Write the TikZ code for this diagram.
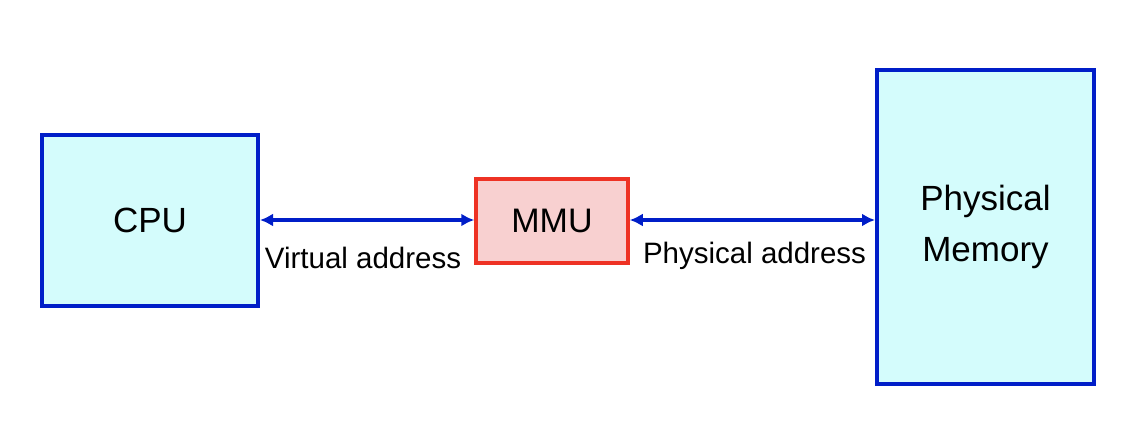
\documentclass[tikz,border=0pt]{standalone}
\usepackage{fontspec}
\setmainfont{Liberation Sans}
\usetikzlibrary{arrows.meta}
\definecolor{boxblue}{RGB}{0,30,200}
\definecolor{boxcyan}{RGB}{212,252,252}
\definecolor{mmured}{RGB}{238,50,36}
\definecolor{mmupink}{RGB}{248,208,208}
\tikzset{
  unitbox/.style={draw=boxblue, fill=boxcyan, line width=4pt, align=center,
    font=\fontsize{35}{51}\selectfont, inner sep=0pt},
  mmubox/.style={draw=mmured, fill=mmupink, line width=3.5pt,
    font=\fontsize{34}{40}\selectfont, inner sep=0pt},
  link/.style={draw=boxblue, line width=3.2pt,
    {Latex[length=13pt,width=13pt]}-{Latex[length=13pt,width=13pt]}},
  lbl/.style={font=\fontsize{29.5}{34}\selectfont, anchor=base, inner sep=0pt}
}
\begin{document}
\begin{tikzpicture}[x=1pt,y=-1pt]
\useasboundingbox (0,0) rectangle (1144,442);
\node[unitbox, minimum width=216pt, minimum height=171pt] (cpu) at (150,220.5) {CPU};
\node[mmubox, minimum width=152pt, minimum height=84pt] (mmu) at (552,221) {MMU};
\node[unitbox, minimum width=217pt, minimum height=314pt] (mem) at (985.5,227) {Physical\\Memory};
\draw[link] (cpu.east |- 0,220) -- (mmu.west |- 0,220);
\draw[link] (mmu.east |- 0,220) -- (mem.west |- 0,220);
\node[lbl] (va) at (363,268) {Virtual address};
\node[lbl] (pa) at (754.5,263) {Physical address};
\end{tikzpicture}
\end{document}
